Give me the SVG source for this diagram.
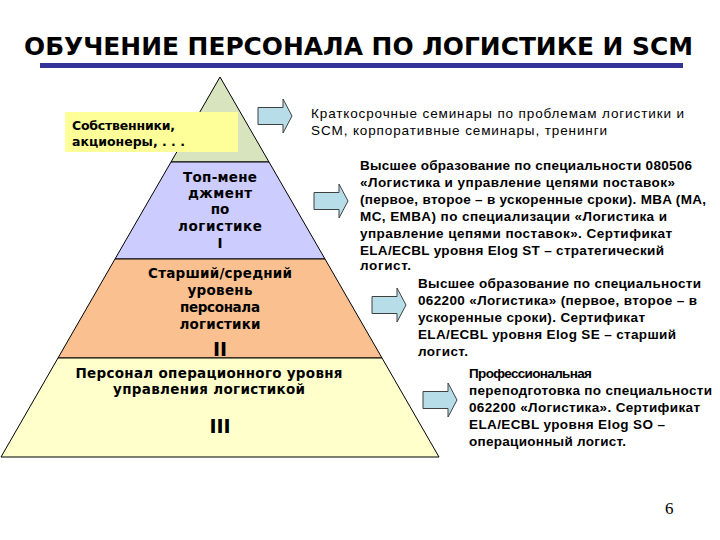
<svg xmlns="http://www.w3.org/2000/svg" xmlns:xlink="http://www.w3.org/1999/xlink" width="720" height="540" viewBox="0 0 720 540">
<style>
.title{font-family:"DejaVu Sans",Verdana,sans-serif;font-weight:bold;font-size:25px;fill:#000}
.pl{font-family:"DejaVu Sans",Verdana,sans-serif;font-weight:bold;font-size:13.5px;fill:#000;text-anchor:middle}
.rn{font-family:"DejaVu Sans",Verdana,sans-serif;font-weight:bold;font-size:19px;fill:#000;text-anchor:middle}
.lay{stroke:#000;stroke-width:1}
.lbl{font-family:"DejaVu Sans",Verdana,sans-serif;font-weight:bold;font-size:12.5px;fill:#000}
.desc{font-family:"Liberation Sans",Arial,sans-serif;font-size:13.5px;fill:#000}
.b{font-weight:bold}
.arrow{fill:#b7dde8;stroke:#404040;stroke-width:1}
.pg{font-family:"Liberation Serif","Times New Roman",serif;font-size:17px;fill:#000}
</style>
<defs>
<path id="arr" d="M0,-8.5 H25 V-17 L34,0 L25,17 V8.5 H0 Z"/>
</defs>
<rect width="720" height="540" fill="#fff"/>

<g id="title">
<text class="title" x="24" y="55" textLength="669" lengthAdjust="spacingAndGlyphs">ОБУЧЕНИЕ ПЕРСОНАЛА ПО ЛОГИСТИКЕ И SCM</text>
<rect x="40" y="63" width="643" height="5" fill="#333399"/>
</g>

<g id="level-owners">
<polygon class="lay" points="220,77 269,162 171,162" fill="#d7e4bd"/>
</g>

<g id="level-top">
<polygon class="lay" points="171,162 269,162 325,259 115,259" fill="#ccccff"/>
<text class="pl" x="220" y="182" textLength="74">Топ-мене</text>
<text class="pl" x="220" y="198" textLength="64">джмент</text>
<text class="pl" x="220" y="214">по</text>
<text class="pl" x="220" y="231" textLength="84">логистике</text>
<text class="pl" x="220" y="248">I</text>
</g>

<g id="level-senior">
<polygon class="lay" points="115,259 325,259 382,358 58,358" fill="#fac090"/>
<text class="pl" x="220" y="278" textLength="144">Старший/средний</text>
<text class="pl" x="220" y="295" textLength="65">уровень</text>
<text class="pl" x="220" y="312" textLength="80">персонала</text>
<text class="pl" x="220" y="329" textLength="81">логистики</text>
<text class="rn" x="220" y="356">II</text>
</g>

<g id="level-operational">
<polygon class="lay" points="58,358 382,358 439,457 1,457" fill="#ffffcc"/>
<text class="pl" x="209" y="378" textLength="267">Персонал операционного уровня</text>
<text class="pl" x="209" y="394" textLength="192">управления логистикой</text>
<text class="rn" x="220" y="433">III</text>
</g>

<g id="owners-label">
<rect x="65" y="112" width="173" height="40" fill="#ffff99"/>
<text class="lbl" x="72" y="130" textLength="103">Собственники,</text>
<text class="lbl" x="72" y="146">акционеры, . . .</text>
</g>

<g id="connectors">
<use xlink:href="#arr" class="arrow" x="258" y="116"/>
<use xlink:href="#arr" class="arrow" x="314" y="201"/>
<use xlink:href="#arr" class="arrow" x="372" y="305"/>
<use xlink:href="#arr" class="arrow" x="423" y="400"/>
</g>

<g id="desc-owners">
<text class="desc" x="311" y="118" textLength="373">Краткосрочные семинары по проблемам логистики и</text>
<text class="desc" x="311" y="135" textLength="296">SCM, корпоративные семинары, тренинги</text>
</g>

<g id="desc-top">
<text class="desc b" x="360" y="170" textLength="332">Высшее образование по специальности 080506</text>
<text class="desc b" x="360" y="187" textLength="315">«Логистика и управление цепями поставок»</text>
<text class="desc b" x="360" y="204" textLength="346">(первое, второе – в ускоренные сроки). MBA (MA,</text>
<text class="desc b" x="360" y="221" textLength="307">MC, EMBA)  по специализации «Логистика и</text>
<text class="desc b" x="360" y="238" textLength="312">управление цепями поставок». Сертификат</text>
<text class="desc b" x="360" y="255" textLength="304">ELA/ECBL уровня Elog ST – стратегический</text>
<text class="desc b" x="360" y="270" textLength="51">логист.</text>
</g>

<g id="desc-senior">
<text class="desc b" x="418" y="288" textLength="283">Высшее образование по специальности</text>
<text class="desc b" x="418" y="305" textLength="279">062200 «Логистика» (первое, второе – в</text>
<text class="desc b" x="418" y="322" textLength="227">ускоренные сроки). Сертификат</text>
<text class="desc b" x="418" y="339" textLength="258">ELA/ECBL уровня Elog SE – старший</text>
<text class="desc b" x="418" y="356" textLength="50">логист.</text>
</g>

<g id="desc-operational">
<text class="desc b" x="469" y="378" textLength="123">Профессиональная</text>
<text class="desc b" x="469" y="395" textLength="243">переподготовка по специальности</text>
<text class="desc b" x="469" y="412" textLength="231">062200 «Логистика». Сертификат</text>
<text class="desc b" x="469" y="429" textLength="196">ELA/ECBL уровня Elog SO –</text>
<text class="desc b" x="469" y="446" textLength="157">операционный логист.</text>
</g>

<text class="pg" x="665" y="514">6</text>
</svg>
